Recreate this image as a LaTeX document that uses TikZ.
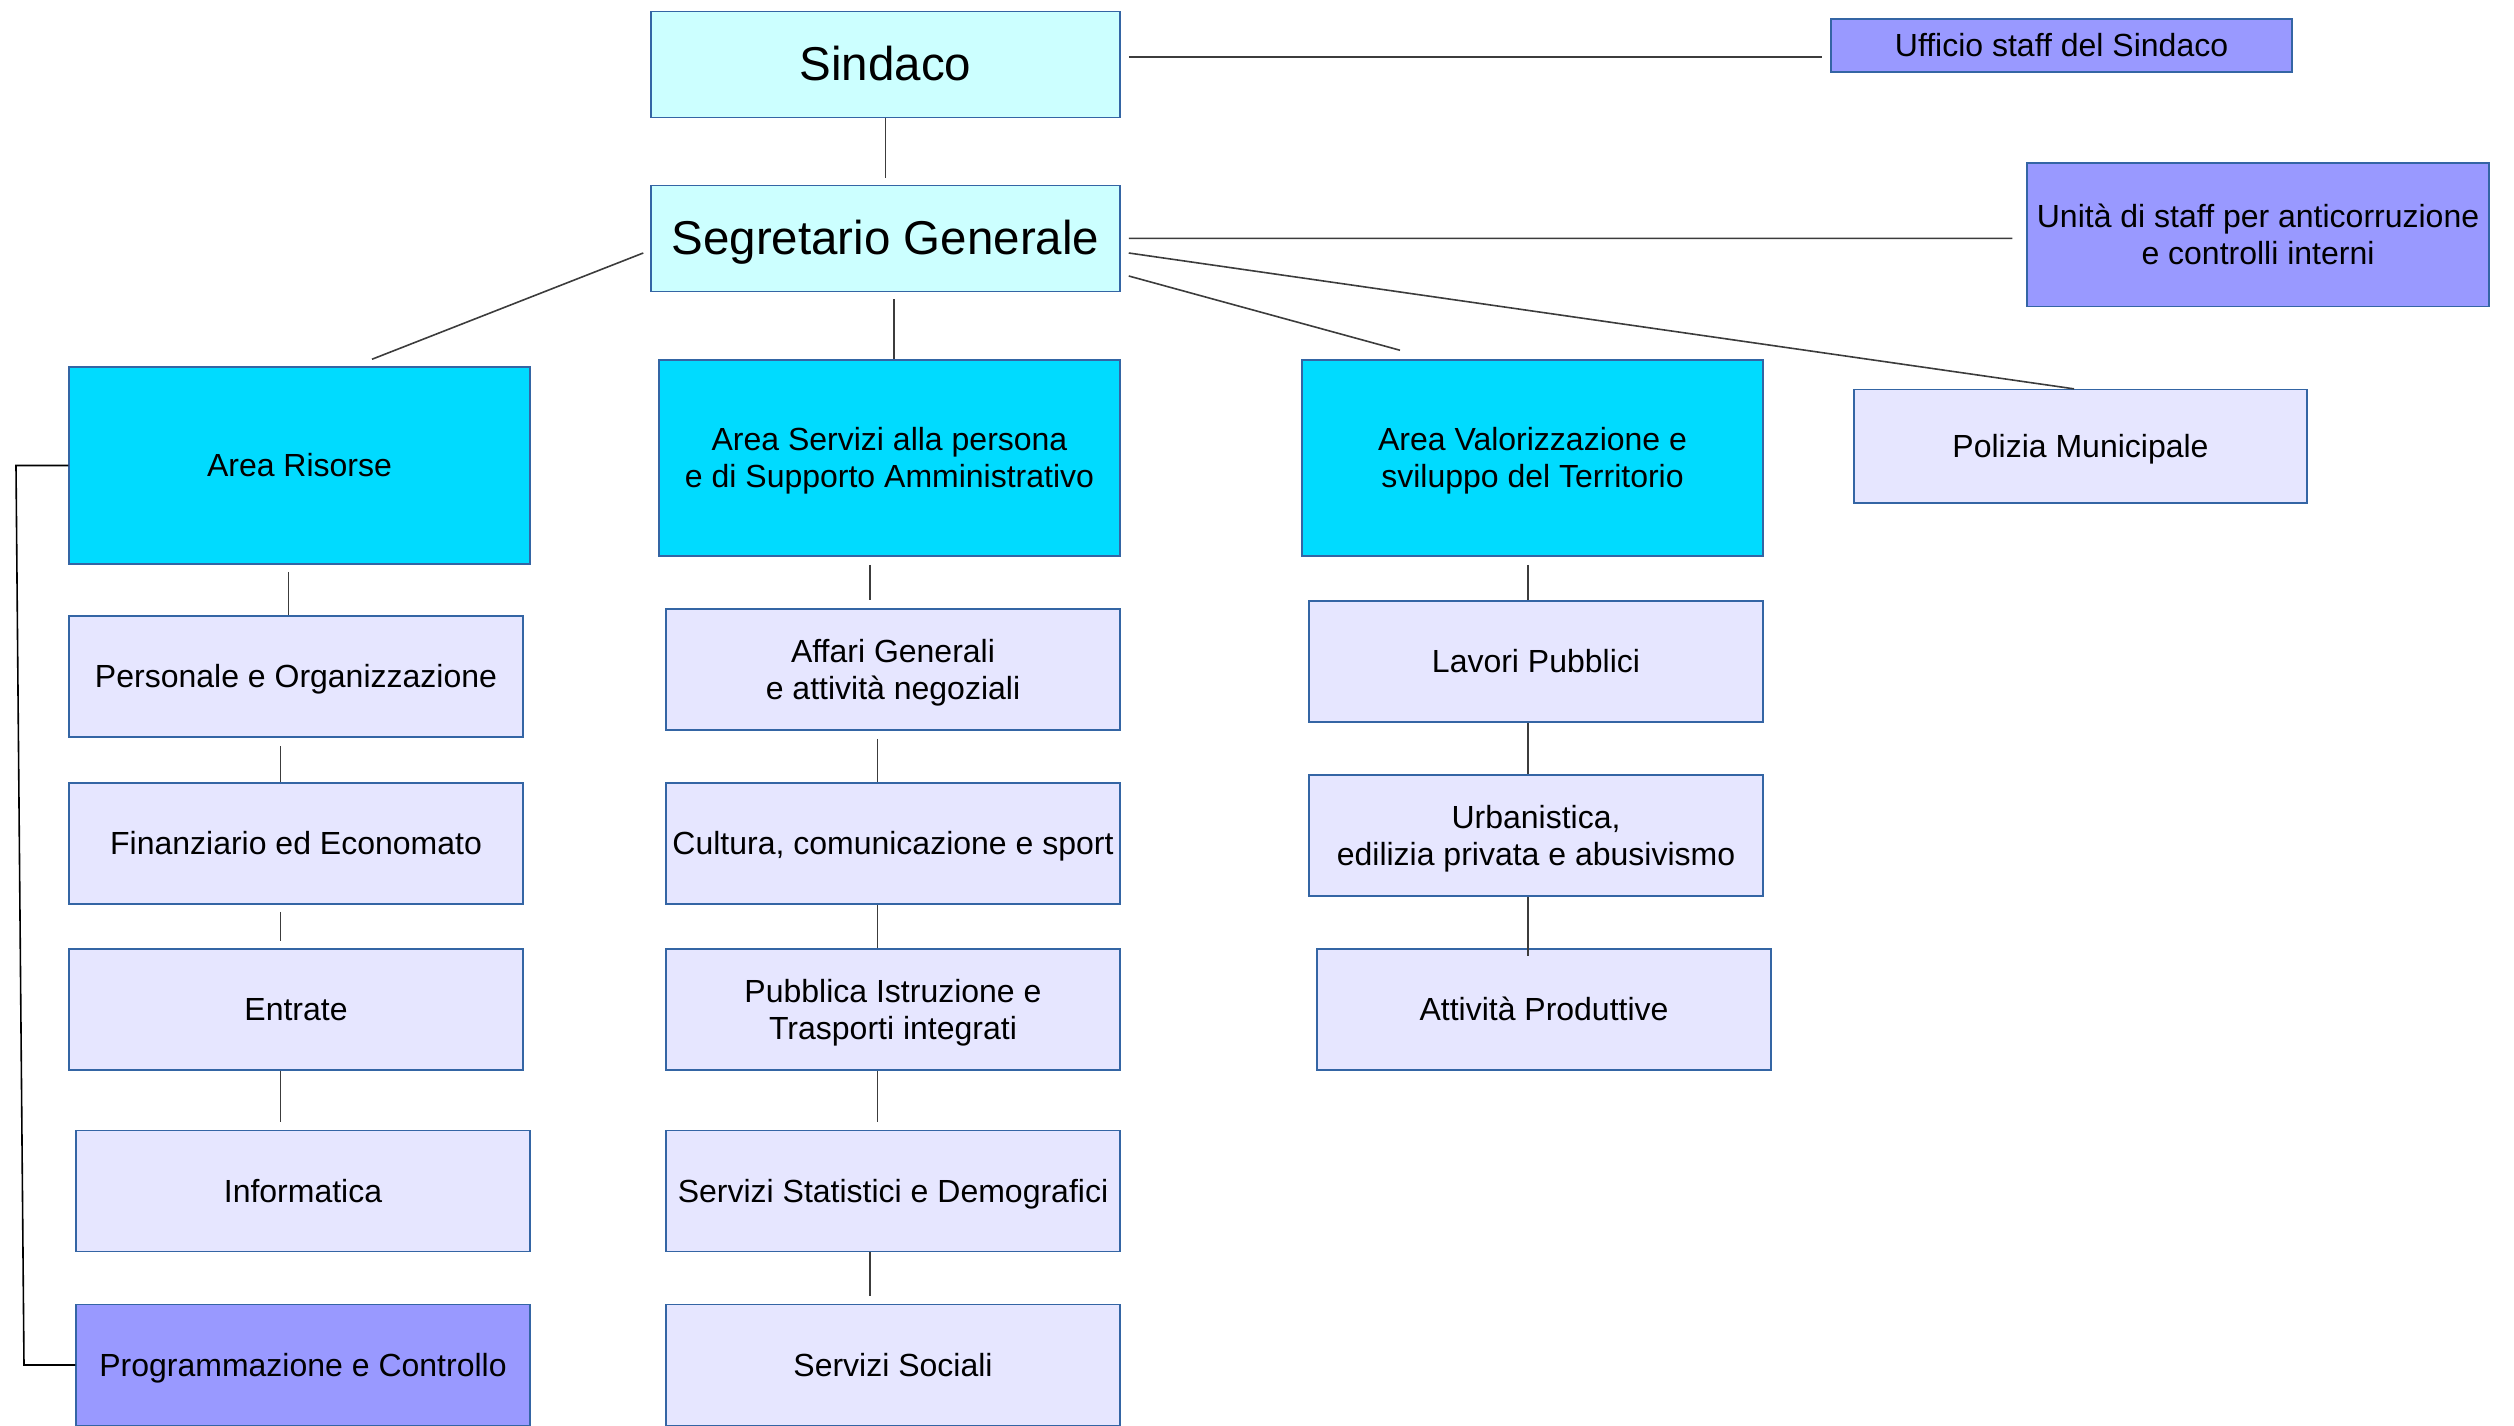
\documentclass[tikz,border=0pt]{standalone}
\usepackage{fontspec}
\setmainfont{Liberation Sans}
\definecolor{bordo}{RGB}{52,101,164}
\definecolor{vertice}{RGB}{204,255,255}
\definecolor{area}{RGB}{0,219,255}
\definecolor{ufficio}{RGB}{230,230,255}
\definecolor{staff}{RGB}{153,153,255}
\definecolor{linea}{RGB}{60,60,60}
% strut with the ascent (0.905em) and descent (0.212em) of the font,
% so every line is centred the same way whatever its letters
\newcommand\rigastrut{\rule[-0.212em]{0pt}{1.117em}}
\tikzset{
  box/.style={draw=bordo, line width=1.5pt, rectangle, inner sep=0pt, align=center,
    font=\fontsize{32}{37}\selectfont, text=black,
    execute at begin node=\rigastrut, execute at end node=\rigastrut},
  topbox/.style={box, fill=vertice, minimum width=469pt, minimum height=106pt,
    font=\fontsize{47.5}{54}\selectfont},
  areabox/.style={box, fill=area, minimum width=461pt},
  unitbox/.style={box, fill=ufficio, minimum width=454pt, minimum height=121pt},
  staffbox/.style={box, fill=staff},
  conn/.style={draw=linea, line width=1.6pt}
}
\begin{document}
\begin{tikzpicture}[x=1pt, y=-1pt]
\useasboundingbox (0,0) rectangle (2514,1426);

% vertice
\node[topbox] (sindaco) at (885.5,64.5) {Sindaco};
\node[topbox] (segr) at (885.5,238.3) {Segretario Generale};

% uffici di staff
\node[staffbox, minimum width=461pt, minimum height=53pt] (ufficio) at (2061.5,45.5) {Ufficio staff del Sindaco};
\node[staffbox, minimum width=462pt, minimum height=143.5pt] (unita) at (2258,234.75) {\rigastrut Unità di staff per anticorruzione\\e controlli interni};

% aree
\node[areabox, minimum height=197pt] (arearis) at (299.5,465.5) {Area Risorse};
\node[areabox, minimum height=196pt] (areaserv) at (889.5,458) {\rigastrut Area Servizi alla persona\\e di Supporto Amministrativo};
\node[areabox, minimum height=196pt] (areaval) at (1532.5,458) {\rigastrut Area Valorizzazione e\\sviluppo del Territorio};
\node[unitbox, minimum width=453pt, minimum height=113.4pt] (polizia) at (2080.5,446.3) {Polizia Municipale};

% Area Risorse
\node[unitbox] (personale) at (296,676.5) {Personale e Organizzazione};
\node[unitbox] (finanz) at (296,843.5) {Finanziario ed Economato};
\node[unitbox] (entrate) at (296,1009.5) {Entrate};
\node[unitbox] (informatica) at (303,1191) {Informatica};
\node[unitbox, fill=staff] (programm) at (303,1365) {Programmazione e Controllo};

% Area Servizi alla persona
\node[unitbox] (affari) at (893,669.5) {\rigastrut Affari Generali\\e attività negoziali};
\node[unitbox] (cultura) at (893,843.5) {Cultura, comunicazione e sport};
\node[unitbox] (pubblica) at (893,1009.5) {\rigastrut Pubblica Istruzione e\\Trasporti integrati};
\node[unitbox] (statistici) at (893,1191) {Servizi Statistici e Demografici};
\node[unitbox] (sociali) at (893,1365) {Servizi Sociali};

% Area Valorizzazione
\node[unitbox] (lavori) at (1536,661.5) {Lavori Pubblici};
\node[unitbox] (urban) at (1536,835.5) {\rigastrut Urbanistica,\\edilizia privata e abusivismo};
\node[unitbox] (attivita) at (1544,1009.5) {Attività Produttive};

% collegamenti del vertice
\draw[conn] ([shift={(8,-7.5)}]sindaco.east) -- ([shift={(-8,11.5)}]ufficio.west);
\draw[conn] (sindaco.south) -- ([shift={(0,-7)}]segr.north);
\draw[conn] ([shift={(8,0)}]segr.east) -- ([shift={(-14,3.6)}]unita.west);
\draw[conn] ([shift={(-7,14.7)}]segr.west) -- ([shift={(72.5,-7)}]arearis.north);
\draw[conn] ([shift={(8.5,7.4)}]segr.south) -- ([shift={(4.5,0)}]areaserv.north);
\draw[conn] ([shift={(8,37.7)}]segr.east) -- ([shift={(-132.5,-9)}]areaval.north);
\draw[conn] ([shift={(8,14.7)}]segr.east) -- ([shift={(-6.5,0)}]polizia.north);

% colonna Area Risorse
\draw[conn] ([shift={(-11,7)}]arearis.south) -- ([shift={(-7.5,0)}]personale.north);
\draw[conn] ([shift={(-15.5,8.6)}]personale.south) -- ([shift={(-15.5,0)}]finanz.north);
\draw[conn] ([shift={(-15.5,7)}]finanz.south) -- ([shift={(-15.5,-7.4)}]entrate.north);
\draw[conn] ([shift={(-15.5,0)}]entrate.south) -- ([shift={(-22.5,-7.5)}]informatica.north);
\coordinate (ritorno1) at (16,465.5);
\coordinate (ritorno2) at (24,1365);
\draw[conn, draw=black] (arearis.west) -- (ritorno1) -- (ritorno2) -- (programm.west);

% colonna Area Servizi
\draw[conn] ([shift={(-19.5,8)}]areaserv.south) -- ([shift={(-23,-8)}]affari.north);
\draw[conn] ([shift={(-15.5,8)}]affari.south) -- ([shift={(-15.5,0)}]cultura.north);
\draw[conn] ([shift={(-15.5,0)}]cultura.south) -- ([shift={(-15.5,0)}]pubblica.north);
\draw[conn] ([shift={(-15.5,0)}]pubblica.south) -- ([shift={(-15.5,-7.5)}]statistici.north);
\draw[conn] ([shift={(-23,0)}]statistici.south) -- ([shift={(-23,-7.5)}]sociali.north);

% colonna Area Valorizzazione
\draw[conn] ([shift={(-4.5,8)}]areaval.south) -- ([shift={(-8,0)}]lavori.north);
\draw[conn] ([shift={(-8,0)}]lavori.south) -- ([shift={(-8,0)}]urban.north);
\draw[conn] ([shift={(-8,0)}]urban.south) -- ([shift={(-16,7.6)}]attivita.north);
\end{tikzpicture}
\end{document}
